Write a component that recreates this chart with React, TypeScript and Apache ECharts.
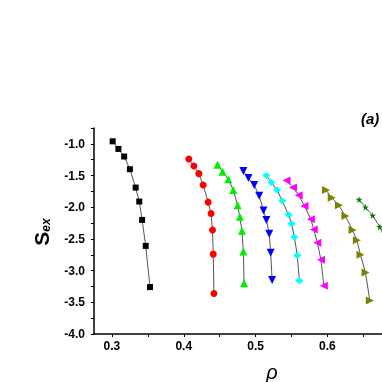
import React, { useEffect, useRef } from "react";
import * as echarts from "echarts";

const rhoA = [0.301, 0.309, 0.317, 0.325, 0.333, 0.338, 0.342, 0.347, 0.353];
const sA = [-0.96, -1.08, -1.2, -1.4, -1.69, -1.91, -2.2, -2.61, -3.26];
const rhoB = [0.407, 0.414, 0.421, 0.427, 0.434, 0.438, 0.44, 0.441, 0.442];
const sB = [-1.24, -1.35, -1.47, -1.65, -1.92, -2.1, -2.36, -2.74, -3.36];
const rhoC = [0.447, 0.454, 0.462, 0.469, 0.475, 0.478, 0.481, 0.483, 0.484];
const sC = [-1.33, -1.44, -1.56, -1.73, -1.97, -2.15, -2.37, -2.7, -3.2];
const rhoD = [0.483, 0.49, 0.498, 0.505, 0.511, 0.515, 0.519, 0.521, 0.523];
const sD = [-1.43, -1.54, -1.65, -1.82, -2.05, -2.2, -2.42, -2.72, -3.15];
const rhoE = [0.515, 0.522, 0.53, 0.537, 0.546, 0.55, 0.554, 0.558, 0.561];
const sE = [-1.5, -1.61, -1.73, -1.9, -2.12, -2.26, -2.47, -2.76, -3.16];
const rhoF = [0.543, 0.552, 0.56, 0.568, 0.577, 0.581, 0.586, 0.591, 0.595];
const sF = [-1.58, -1.69, -1.81, -1.98, -2.19, -2.35, -2.56, -2.83, -3.24];
const rhoG = [0.598, 0.606, 0.616, 0.625, 0.635, 0.641, 0.646, 0.653, 0.659];
const sG = [-1.73, -1.85, -1.97, -2.14, -2.36, -2.52, -2.75, -3.03, -3.47];
const rhoH = [0.644, 0.653, 0.663, 0.673, 0.68, 0.685, 0.69, 0.694, 0.698];
const sH = [-1.88, -2.0, -2.13, -2.31, -2.5, -2.68, -2.95, -3.3, -3.7];

const xLabelValues = [0.3, 0.4, 0.5, 0.6];
const xTickValues = [0.3, 0.35, 0.4, 0.45, 0.5, 0.55, 0.6, 0.65];
const yLabelValues = [-4.0, -3.5, -3.0, -2.5, -2.0, -1.5, -1.0];
const yTickValues = [-4.0, -3.75, -3.5, -3.25, -3.0, -2.75, -2.5, -2.25, -2.0, -1.75, -1.5, -1.25, -1.0, -0.75];

const STAR =
  "path://M50,0 L61,35 L98,35 L68,57 L79,91 L50,70 L21,91 L32,57 L2,35 L39,35 Z";

function zip(xs: number[], ys: number[]) {
  return xs.map((x, i) => [x, ys[i]]);
}

export default function App() {
  const ref = useRef<HTMLDivElement>(null);
  useEffect(() => {
    const chart = echarts.init(ref.current!, null, { renderer: "svg" });
    const mk = (
      xs: number[],
      ys: number[],
      color: string,
      symbol: string,
      size: number | number[],
      rotate = 0
    ) => ({
      type: "line",
      data: zip(xs, ys),
      symbol,
      symbolSize: size,
      symbolRotate: rotate,
      showAllSymbol: true,
      lineStyle: { color: "#555", width: 1 },
      itemStyle: { color },
      z: 2,
    });
    chart.setOption({
      animation: false,
      grid: { left: 94, top: 128, right: 0, bottom: 48 },
      xAxis: {
        type: "value",
        min: 0.275,
        max: 0.676,
        axisLine: { show: true, lineStyle: { color: "#000", width: 1.5 } },
        axisTick: { show: true, customValues: xTickValues, length: 3, lineStyle: { color: "#000" } },
        axisLabel: {
          customValues: xLabelValues,
          formatter: (v: number) => v.toFixed(1),
          fontFamily: "Liberation Sans, Arial",
          fontWeight: "bold",
          fontSize: 12,
          color: "#000",
          margin: 6,
        },
        splitLine: { show: false },
      },
      yAxis: {
        type: "value",
        min: -4,
        max: -0.75,
        axisLine: { show: true, lineStyle: { color: "#000", width: 1.5 } },
        axisTick: { show: true, customValues: yTickValues, length: 3, lineStyle: { color: "#000" } },
        axisLabel: {
          customValues: yLabelValues,
          formatter: (v: number) => v.toFixed(1),
          fontFamily: "Liberation Sans, Arial",
          fontWeight: "bold",
          fontSize: 12,
          color: "#000",
          margin: 9,
        },
        splitLine: { show: false },
      },
      graphic: [
        {
          type: "text",
          x: 41,
          y: 232,
          rotation: Math.PI / 2,
          style: {
            text: "{s|S}{e|ex}",
            align: "center",
            verticalAlign: "middle",
            rich: {
              s: { fontSize: 21, fontWeight: "bold", fontFamily: "Liberation Sans, Arial", fill: "#000", verticalAlign: "bottom" },
              e: { fontSize: 12, fontWeight: "bold", fontStyle: "italic", fontFamily: "Liberation Sans, Arial", fill: "#000", verticalAlign: "bottom", padding: [6, 0, 0, 0] },
            },
          },
        },
        {
          type: "text",
          x: 272,
          y: 372,
          style: {
            text: "ρ",
            align: "center",
            verticalAlign: "middle",
            fontSize: 20,
            fontStyle: "italic",
            fontFamily: "Liberation Sans, Arial",
            fill: "#000",
          },
        },
        {
          type: "text",
          x: 361,
          y: 118,
          style: {
            text: "(a)",
            align: "left",
            verticalAlign: "middle",
            fontSize: 15,
            fontWeight: "bold",
            fontStyle: "italic",
            fontFamily: "Liberation Sans, Arial",
            fill: "#000",
          },
        },
      ],
      series: [
        mk(rhoA, sA, "#000000", "rect", 6),
        mk(rhoB, sB, "#ff0000", "circle", 7),
        mk(rhoC, sC, "#00ee00", "triangle", 8),
        mk(rhoD, sD, "#0000ff", "triangle", 8, 180),
        mk(rhoE, sE, "#00ffff", "diamond", [8, 7]),
        mk(rhoF, sF, "#ff00ff", "triangle", 8, 90),
        mk(rhoG, sG, "#808000", "triangle", 8, -90),
        mk(rhoH, sH, "#008000", STAR, 7),
      ],
    });
    return () => chart.dispose();
  }, []);
  return (
    <div
      ref={ref}
      style={{ position: "fixed", left: 0, top: 0, width: 382, height: 382 }}
    />
  );
}
